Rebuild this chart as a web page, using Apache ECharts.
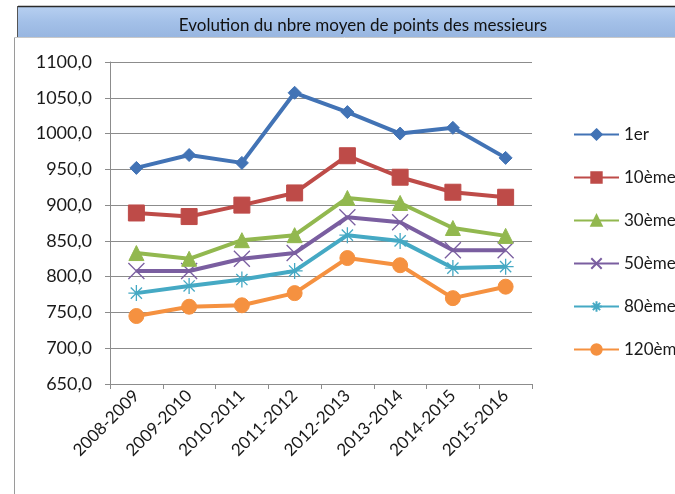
<!DOCTYPE html>
<html>
<head>
<meta charset="utf-8">
<script src="https://cdn.jsdelivr.net/npm/echarts@6/dist/echarts.min.js"></script>
<style>
html,body{margin:0;padding:0;background:#fff;}
#c{width:675px;height:494px;}
</style>
</head>
<body>
<div id="c"></div>
<script>
var categories = ['2008-2009','2009-2010','2010-2011','2011-2012','2012-2013','2013-2014','2014-2015','2015-2016'];
var s1er   = [952, 970, 959, 1057, 1030, 1000, 1008, 966];
var s10    = [889, 884, 900, 917, 969, 939, 918, 911];
var s30    = [833, 825, 851, 858, 910, 903, 868, 857];
var s50    = [808, 808, 825, 833, 883, 876, 837, 837];
var s80    = [777, 787, 796, 808, 858, 850, 812, 814];
var s120   = [745, 758, 760, 777, 826, 816, 770, 786];
var seriesNames = ['1er','10ème','30ème','50ème','80ème','120ème'];
var yTicks = [650, 700, 750, 800, 850, 900, 950, 1000, 1050, 1100];

var font = 'Lato, "Open Sans", sans-serif';
var colors = ['#4273b5','#be4b48','#92b84f','#7a5ea0','#45a9c4','#f59140'];
var markers = ['diamond','rect','triangle','path://M0,0L10,10M10,0L0,10','path://M5,0L5,10M0,5L10,5M1.5,1.5L8.5,8.5M8.5,1.5L1.5,8.5','circle'];
var sizes = [13,16,15,16,16,15];
var allData = [s1er,s10,s30,s50,s80,s120];

var chart = echarts.init(document.getElementById('c'));
var series = allData.map(function(d,i){
  var isStroke = (i===3||i===4);
  return {
    name: seriesNames[i],
    type: 'line',
    data: d,
    symbol: markers[i],
    symbolSize: sizes[i],
    showAllSymbol: true,
    lineStyle: {width: 4, color: colors[i]},
    itemStyle: isStroke ? {color: 'rgba(0,0,0,0)', borderColor: colors[i], borderWidth: 1.3} : {color: colors[i], borderColor: colors[i], borderWidth: 1},
    emphasis: {disabled: true},
    animation: false,
    z: 10 - i
  };
});

chart.setOption({
  animation: false,
  color: colors,
  graphic: [
    {type:'rect', shape:{x:18,y:7,width:660,height:30}, style:{fill:{type:'linear',x:0,y:0,x2:0,y2:1,colorStops:[{offset:0,color:'#b6cff0'},{offset:0.5,color:'#a3c0e8'},{offset:1,color:'#98b6e0'}]}, stroke:null}, z:-1},
    {type:'line', shape:{x1:18,y1:6.5,x2:675,y2:6.5}, style:{stroke:'#2a2a2a', lineWidth:1.5}, z:-1},
    {type:'line', shape:{x1:17.5,y1:6,x2:17.5,y2:37}, style:{stroke:'#555', lineWidth:1}, z:-1},
    {type:'line', shape:{x1:14.5,y1:37,x2:14.5,y2:494}, style:{stroke:'#9a9a9a', lineWidth:1}, z:-1},
    {type:'line', shape:{x1:14,y1:37.5,x2:675,y2:37.5}, style:{stroke:'#c8c8c8', lineWidth:1}, z:-1}
  ],
  title: {
    text: 'Evolution du nbre moyen de points des messieurs',
    left: 358, top: 12, textAlign: 'center',
    textStyle: {fontFamily: font, fontSize: 17, fontWeight: 'normal', color: '#111'}
  },
  legend: {
    orient: 'vertical',
    left: 568, top: 121,
    itemGap: 26,
    itemWidth: 45, itemHeight: 13,
    textStyle: {fontFamily: font, fontSize: 17, color: '#1a1a1a', lineHeight: 17, padding:[0,0,0,0]},
    data: seriesNames
  },
  grid: {left: 110, top: 62, width: 422, height: 322, containLabel: false},
  xAxis: {
    type: 'category',
    data: categories,
    boundaryGap: true,
    axisLine: {lineStyle: {color: '#8c8c8c', width: 1}},
    axisTick: {show: true, alignWithLabel: false, length: 5, lineStyle: {color: '#8c8c8c'}},
    axisLabel: {rotate: 45, fontFamily: font, fontSize: 17, color: '#1a1a1a', margin: 9, interval: 0}
  },
  yAxis: {
    type: 'value',
    min: 650, max: 1100, interval: 50,
    axisLine: {show: true, lineStyle: {color: '#8c8c8c', width: 1}},
    axisTick: {show: true, length: 5, lineStyle: {color: '#8c8c8c'}},
    splitLine: {lineStyle: {color: '#8c8c8c', width: 1}},
    axisLabel: {fontFamily: font, fontSize: 18, color: '#1a1a1a', margin: 18,
      formatter: function(v){ return v.toFixed(1).replace('.', ','); }}
  },
  series: series
});
</script>
</body>
</html>
